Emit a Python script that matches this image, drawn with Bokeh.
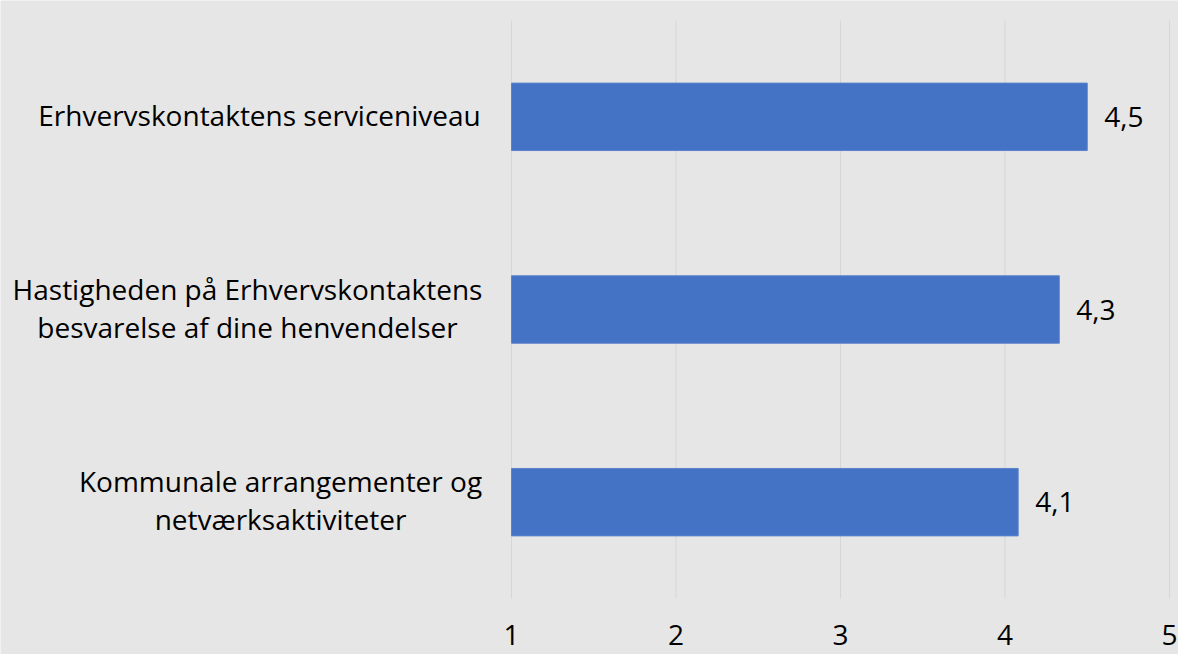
from bokeh.plotting import figure
from bokeh.models import ColumnDataSource, Label, LabelSet, Range1d
from bokeh.core.properties import value
from bokeh.embed import file_html
from bokeh.resources import INLINE

# ---- data ----
categories = [
    "Erhvervskontaktens serviceniveau",
    "Hastigheden på Erhvervskontaktens\nbesvarelse af dine henvendelser",
    "Kommunale arrangementer og\nnetværksaktiviteter",
]
values = [4.50, 4.33, 4.08]
value_labels = ["4,5", "4,3", "4,1"]
x_ticks = [1, 2, 3, 4, 5]
x_tick_labels = ["1", "2", "3", "4", "5"]

# ---- layout / style ----
FONT = "Open Sans"
FSIZE = "28px"
BG = "#e7e6e6"
W, H = 1178, 654
PLOT_L, PLOT_R, PLOT_T, PLOT_B = 511, 1169, 20, 598   # plot area in pixels
XMIN, XMAX = x_ticks[0], x_ticks[-1]
n = len(categories)
YMIN, YMAX = -0.5, n - 0.5
sx = (PLOT_R - PLOT_L) / (XMAX - XMIN)
sy = (PLOT_B - PLOT_T) / (YMAX - YMIN)
x_range = Range1d(XMIN - PLOT_L / sx, XMAX + (W - PLOT_R) / sx)
y_range = Range1d(YMIN - (H - PLOT_B) / sy, YMAX + PLOT_T / sy)

ypos = [n - 1 - i for i in range(n)]
src = ColumnDataSource(dict(y=ypos, right=values, left=[XMIN] * n, lab=value_labels))

p = figure(width=W, height=H, output_backend="svg", toolbar_location=None,
           x_range=x_range, y_range=y_range, min_border=0)
p.background_fill_color = BG
p.border_fill_color = BG
p.outline_line_color = None
p.xaxis.visible = False
p.yaxis.visible = False
p.grid.visible = False

# vertical gridlines limited to the plot area
p.segment(x0=x_ticks, x1=x_ticks, y0=[YMIN] * len(x_ticks), y1=[YMAX] * len(x_ticks),
          line_color="#d6d6d6", line_width=1)

p.hbar(y="y", left="left", right="right", height=0.35, source=src,
       fill_color="#4472c4", line_color="#5a82cc", line_width=1)

p.add_layout(LabelSet(x="right", y="y", text="lab", source=src, x_offset=17,
                      text_font=value(FONT), text_font_size=value(FSIZE),
                      text_color="#000000",
                      text_align="left", text_baseline="middle"))

# category labels, to the left of the plot area
offsets = [-252, -264, -231]
for cat, y, dx in zip(categories, ypos, offsets):
    p.add_layout(Label(x=XMIN, y=y, x_offset=dx, y_offset=2, text=cat, text_font=FONT,
                       text_font_size=FSIZE, text_color="#000000",
                       text_align="center", text_baseline="middle",
                       text_line_height=1.0))

# x tick labels below the plot area
for t, tl in zip(x_ticks, x_tick_labels):
    p.add_layout(Label(x=t, y=YMIN, y_offset=-36, text=tl, text_font=FONT,
                       text_font_size=FSIZE, text_color="#000000",
                       text_align="center", text_baseline="middle"))

open("out.html", "w").write(file_html(p, INLINE))
